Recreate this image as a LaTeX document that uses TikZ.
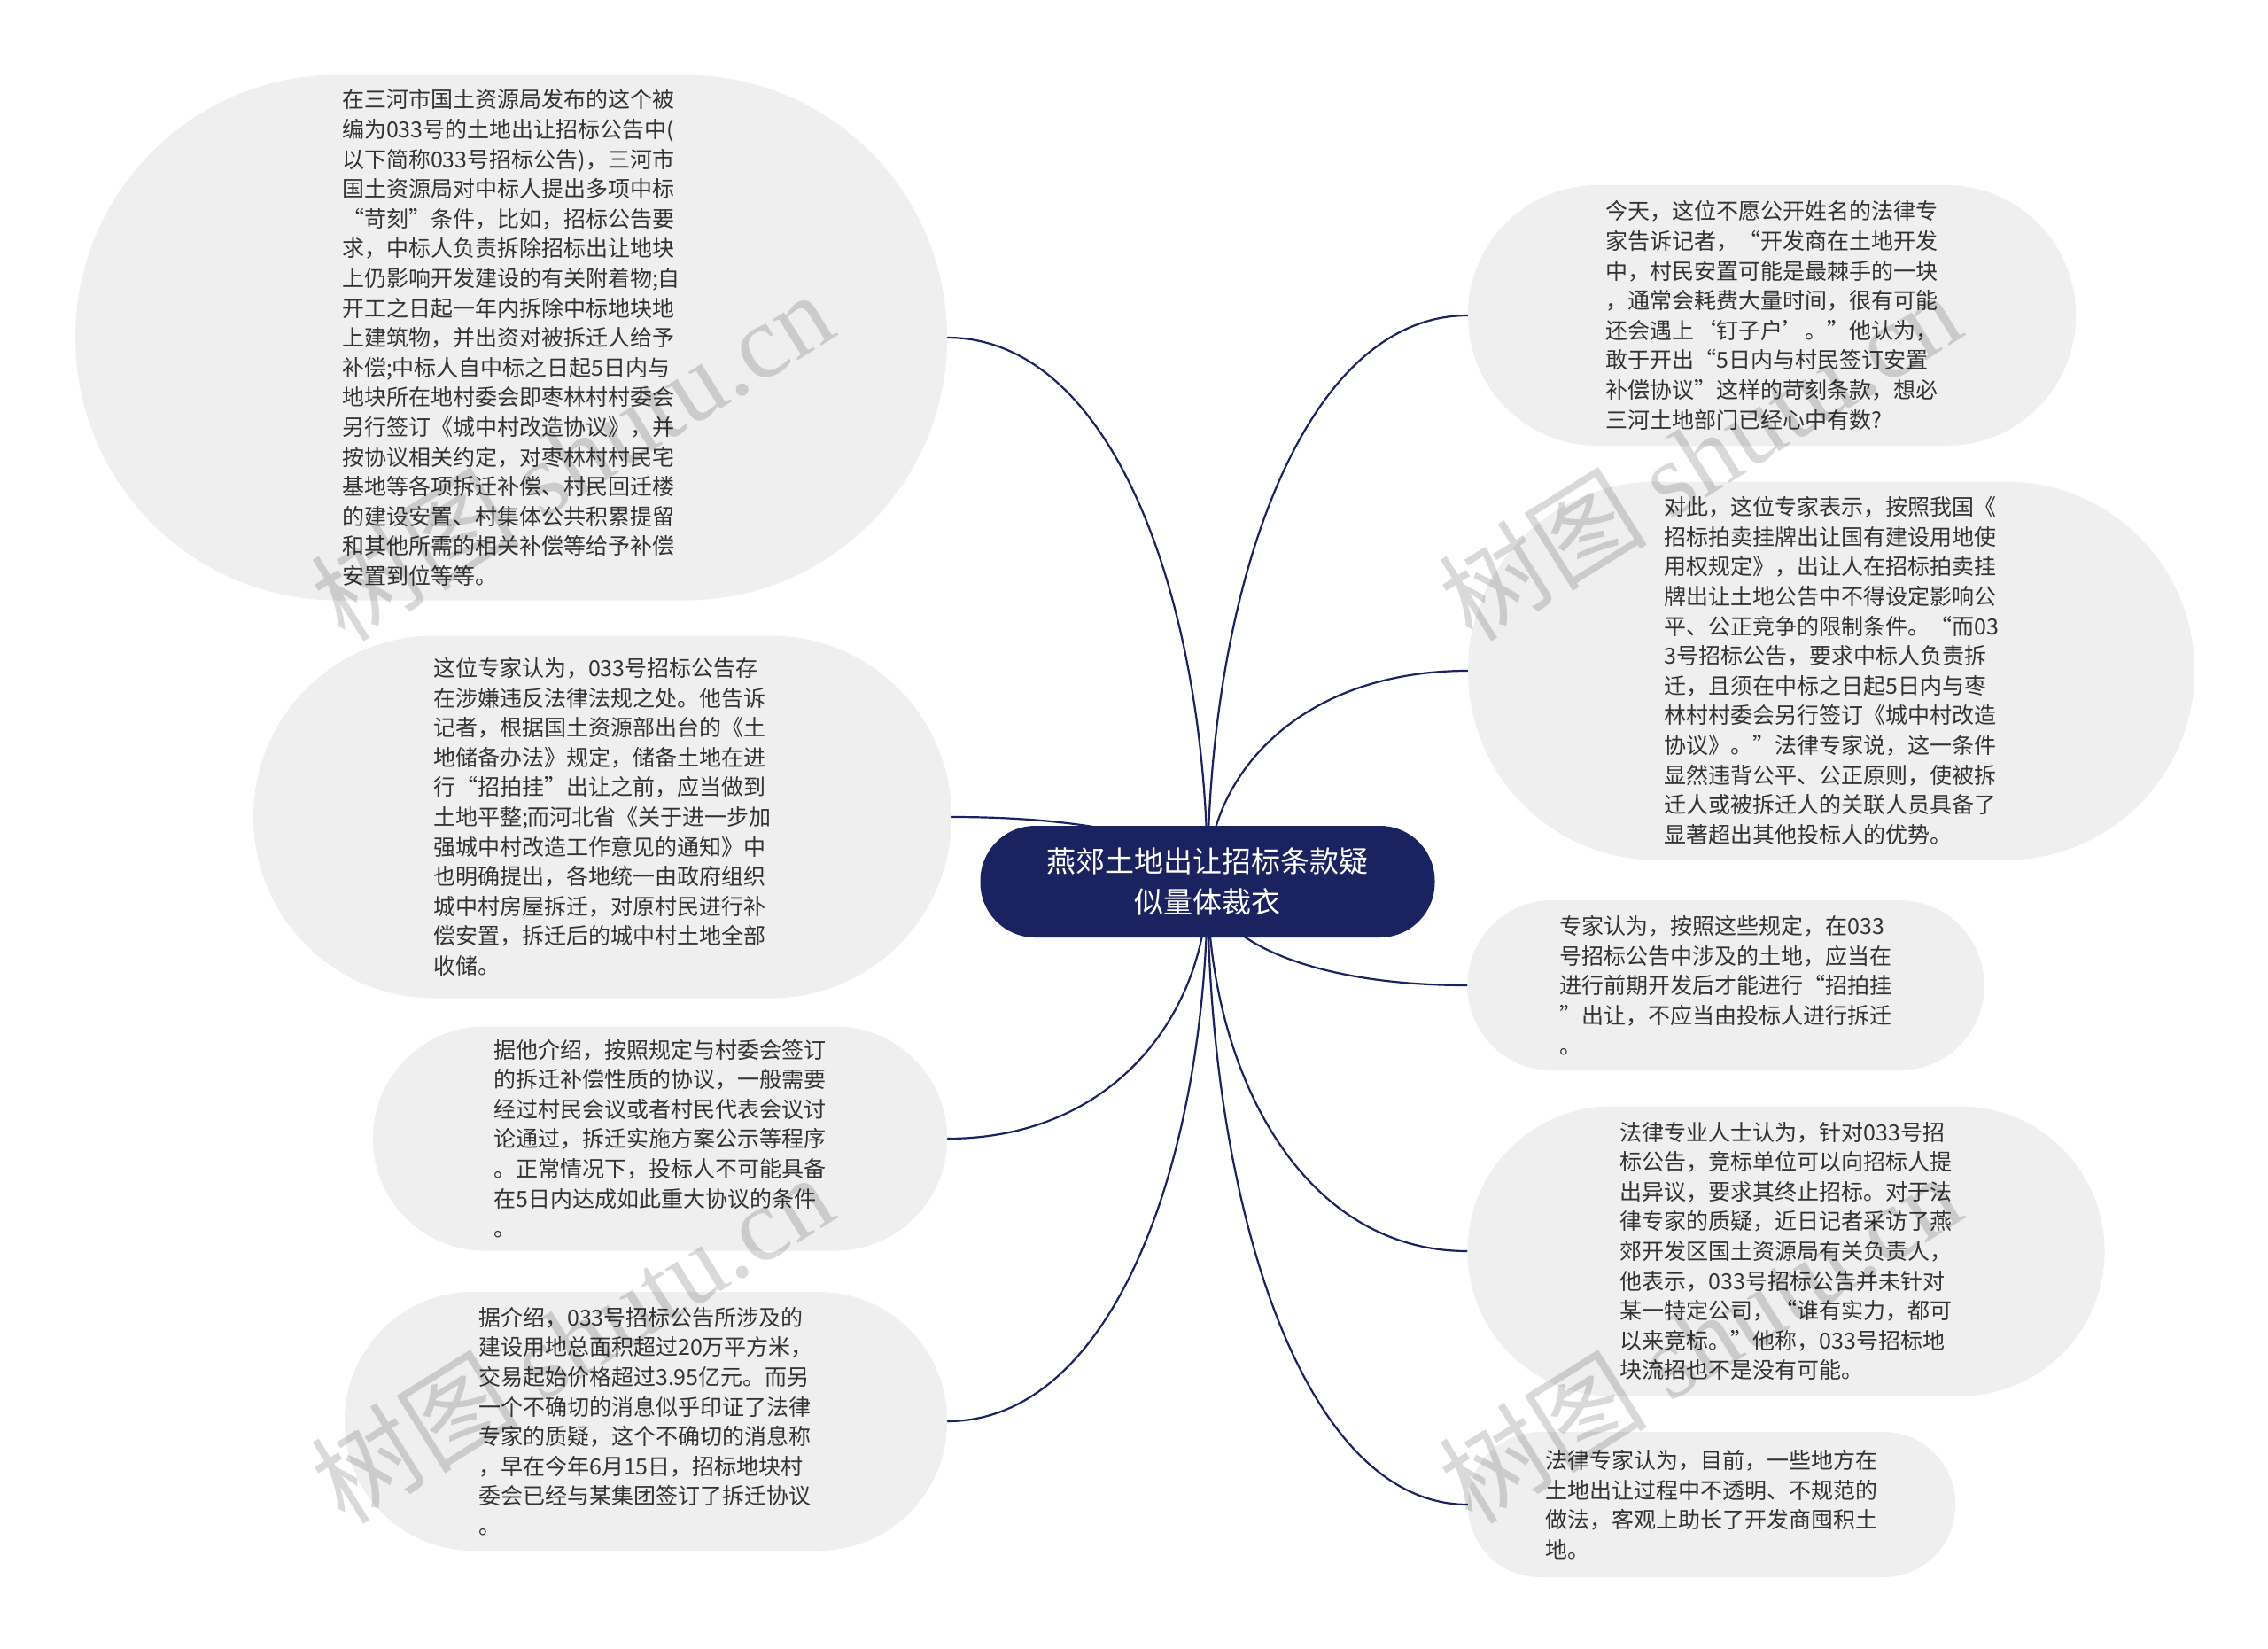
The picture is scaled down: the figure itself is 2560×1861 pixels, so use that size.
\documentclass[tikz,border=0pt]{standalone}
\usepackage{fontspec}
\setmainfont{Noto Sans CJK SC}
\newfontfamily\wmlatin{Liberation Serif}
\usetikzlibrary{calc}
\definecolor{navy}{RGB}{27,34,96}
\definecolor{bubblecol}{RGB}{239,239,239}
\definecolor{txt}{RGB}{51,51,51}
\pgfdeclarelayer{bg}
\pgfsetlayers{bg,main}
\tikzset{
  bubble/.style={fill=bubblecol, inner sep=0pt, align=left, text=txt,
    font=\fontsize{25}{33.6}\selectfont},
  root/.style={fill=navy, text=white, align=center, inner sep=0pt,
    font=\fontsize{33}{46.5}\selectfont},
  link/.style={draw=navy, line width=2.2pt},
  wm/.style={text=black, opacity=0.15, rotate=32, inner sep=0pt,
    font=\fontsize{118}{118}\selectfont}
}
\newcommand\mmlink[1]{%
  \path (root.center |- #1) coordinate (corner);
  \draw[link] (root.center) .. controls ($(root.center)!0.5!(corner)$) and ($(corner)!0.35!(#1)$) .. (#1);}
\begin{document}
\begin{tikzpicture}[x=1pt,y=-1pt]
\useasboundingbox (0,0) rectangle (2560,1861);

\node[root, minimum width=513pt, minimum height=126pt, rounded corners=62pt] (root) at (1363,995)
  {燕郊土地出让招标条款疑\\似量体裁衣};

% left side
\node[bubble, minimum width=984pt, minimum height=593pt, rounded corners=296pt] (l1) at (577,381) {%
在三河市国土资源局发布的这个被\\
编为033号的土地出让招标公告中(\\
以下简称033号招标公告)，三河市\\
国土资源局对中标人提出多项中标\\
“苛刻”条件，比如，招标公告要\\
求，中标人负责拆除招标出让地块\\
上仍影响开发建设的有关附着物;自\\
开工之日起一年内拆除中标地块地\\
上建筑物，并出资对被拆迁人给予\\
补偿;中标人自中标之日起5日内与\\
地块所在地村委会即枣林村村委会\\
另行签订《城中村改造协议》，并\\
按协议相关约定，对枣林村村民宅\\
基地等各项拆迁补偿、村民回迁楼\\
的建设安置、村集体公共积累提留\\
和其他所需的相关补偿等给予补偿\\
安置到位等等。};

\node[bubble, minimum width=788pt, minimum height=409pt, rounded corners=204pt] (l2) at (680,922) {%
这位专家认为，033号招标公告存\\
在涉嫌违反法律法规之处。他告诉\\
记者，根据国土资源部出台的《土\\
地储备办法》规定，储备土地在进\\
行“招拍挂”出让之前，应当做到\\
土地平整;而河北省《关于进一步加\\
强城中村改造工作意见的通知》中\\
也明确提出，各地统一由政府组织\\
城中村房屋拆迁，对原村民进行补\\
偿安置，拆迁后的城中村土地全部\\
收储。};

\node[bubble, minimum width=648pt, minimum height=253pt, rounded corners=126pt] (l3) at (745,1285) {%
据他介绍，按照规定与村委会签订\\
的拆迁补偿性质的协议，一般需要\\
经过村民会议或者村民代表会议讨\\
论通过，拆迁实施方案公示等程序\\
。正常情况下，投标人不可能具备\\
在5日内达成如此重大协议的条件\\
。};

\node[bubble, minimum width=680pt, minimum height=292pt, rounded corners=145pt] (l4) at (729,1604) {%
据介绍，033号招标公告所涉及的\\
建设用地总面积超过20万平方米，\\
交易起始价格超过3.95亿元。而另\\
一个不确切的消息似乎印证了法律\\
专家的质疑，这个不确切的消息称\\
，早在今年6月15日，招标地块村\\
委会已经与某集团签订了拆迁协议\\
。};

% right side
\node[bubble, minimum width=686pt, minimum height=294pt, rounded corners=146pt] (r1) at (2000,356) {%
今天，这位不愿公开姓名的法律专\\
家告诉记者，“开发商在土地开发\\
中，村民安置可能是最棘手的一块\\
，通常会耗费大量时间，很有可能\\
还会遇上‘钉子户’。”他认为，\\
敢于开出“5日内与村民签订安置\\
补偿协议”这样的苛刻条款，想必\\
三河土地部门已经心中有数?};

\node[bubble, minimum width=820pt, minimum height=427pt, rounded corners=213pt] (r2) at (2067,757) {%
对此，这位专家表示，按照我国《\\
招标拍卖挂牌出让国有建设用地使\\
用权规定》，出让人在招标拍卖挂\\
牌出让土地公告中不得设定影响公\\
平、公正竞争的限制条件。“而03\\
3号招标公告，要求中标人负责拆\\
迁，且须在中标之日起5日内与枣\\
林村村委会另行签订《城中村改造\\
协议》。”法律专家说，这一条件\\
显然违背公平、公正原则，使被拆\\
迁人或被拆迁人的关联人员具备了\\
显著超出其他投标人的优势。};

\node[bubble, minimum width=583pt, minimum height=192pt, rounded corners=95pt] (r3) at (1948,1112) {%
专家认为，按照这些规定，在033\\
号招标公告中涉及的土地，应当在\\
进行前期开发后才能进行“招拍挂\\
”出让，不应当由投标人进行拆迁\\
。};

\node[bubble, minimum width=719pt, minimum height=327pt, rounded corners=163pt] (r4) at (2016,1412) {%
法律专业人士认为，针对033号招\\
标公告，竞标单位可以向招标人提\\
出异议，要求其终止招标。对于法\\
律专家的质疑，近日记者采访了燕\\
郊开发区国土资源局有关负责人，\\
他表示，033号招标公告并未针对\\
某一特定公司，“谁有实力，都可\\
以来竞标。”他称，033号招标地\\
块流招也不是没有可能。};

\node[bubble, minimum width=550pt, minimum height=164pt, rounded corners=81pt] (r5) at (1932,1698) {%
法律专家认为，目前，一些地方在\\
土地出让过程中不透明、不规范的\\
做法，客观上助长了开发商囤积土\\
地。};

\begin{pgfonlayer}{bg}
\fill[white] (0,0) rectangle (2560,1861);
\mmlink{l1.east}
\mmlink{l2.east}
\mmlink{l3.east}
\mmlink{l4.east}
\mmlink{r1.west}
\mmlink{r2.west}
\mmlink{r3.west}
\mmlink{r4.west}
\mmlink{r5.west}
\end{pgfonlayer}

% watermarks
\node[wm] (wm1) at (645,514) {树图 {\wmlatin shutu.cn}};
\node[wm] (wm2) at (1918,514) {树图 {\wmlatin shutu.cn}};
\node[wm] (wm3) at (645,1510) {树图 {\wmlatin shutu.cn}};
\node[wm] (wm4) at (1918,1510) {树图 {\wmlatin shutu.cn}};
\end{tikzpicture}
\end{document}
